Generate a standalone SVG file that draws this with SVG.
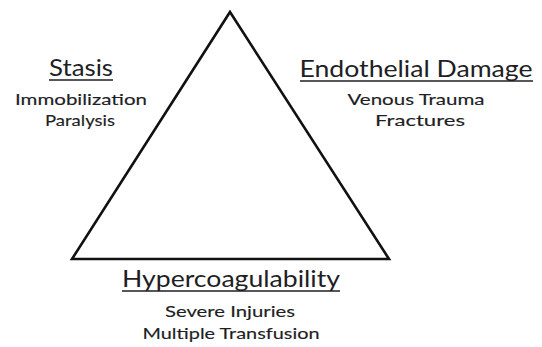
<svg xmlns="http://www.w3.org/2000/svg" width="542" height="347" viewBox="0 0 542 347">
  <style>
    text { font-family: Lato, "Open Sans", "DejaVu Sans", sans-serif; fill: #1e1e24; text-anchor: middle; }
    .title { font-size: 24px; }
    .sub { font-size: 16px; stroke: #1e1e24; stroke-width: 0.15; }
    .ul { stroke: #1e1e24; stroke-width: 1.6; }
    .edge { fill: none; stroke: #111; stroke-width: 2.6; stroke-linejoin: miter; }
  </style>
  <rect width="542" height="347" fill="#ffffff"/>

  <!-- the triangle joining the three factors -->
  <g id="connectors">
    <polygon class="edge" points="230,12 389,259 72,259"/>
  </g>

  <g id="stasis">
    <text class="title" x="81" y="76" textLength="64" lengthAdjust="spacingAndGlyphs">Stasis</text>
    <line class="ul" x1="49" y1="80" x2="113" y2="80"/>
    <text class="sub" x="81" y="105" textLength="132" lengthAdjust="spacingAndGlyphs">Immobilization</text>
    <text class="sub" x="80" y="126" textLength="70" lengthAdjust="spacingAndGlyphs">Paralysis</text>
  </g>

  <g id="endothelial-damage">
    <text class="title" x="416" y="77" textLength="233" lengthAdjust="spacingAndGlyphs">Endothelial Damage</text>
    <line class="ul" x1="300" y1="81" x2="533" y2="81"/>
    <text class="sub" x="416" y="105" textLength="137" lengthAdjust="spacingAndGlyphs">Venous Trauma</text>
    <text class="sub" x="420" y="126" textLength="90" lengthAdjust="spacingAndGlyphs">Fractures</text>
  </g>

  <g id="hypercoagulability">
    <text class="title" x="231" y="287" textLength="218" lengthAdjust="spacingAndGlyphs">Hypercoagulability</text>
    <line class="ul" x1="122" y1="291" x2="340" y2="291"/>
    <text class="sub" x="230" y="317" textLength="130" lengthAdjust="spacingAndGlyphs">Severe Injuries</text>
    <text class="sub" x="231" y="339" textLength="177" lengthAdjust="spacingAndGlyphs">Multiple Transfusion</text>
  </g>
</svg>
